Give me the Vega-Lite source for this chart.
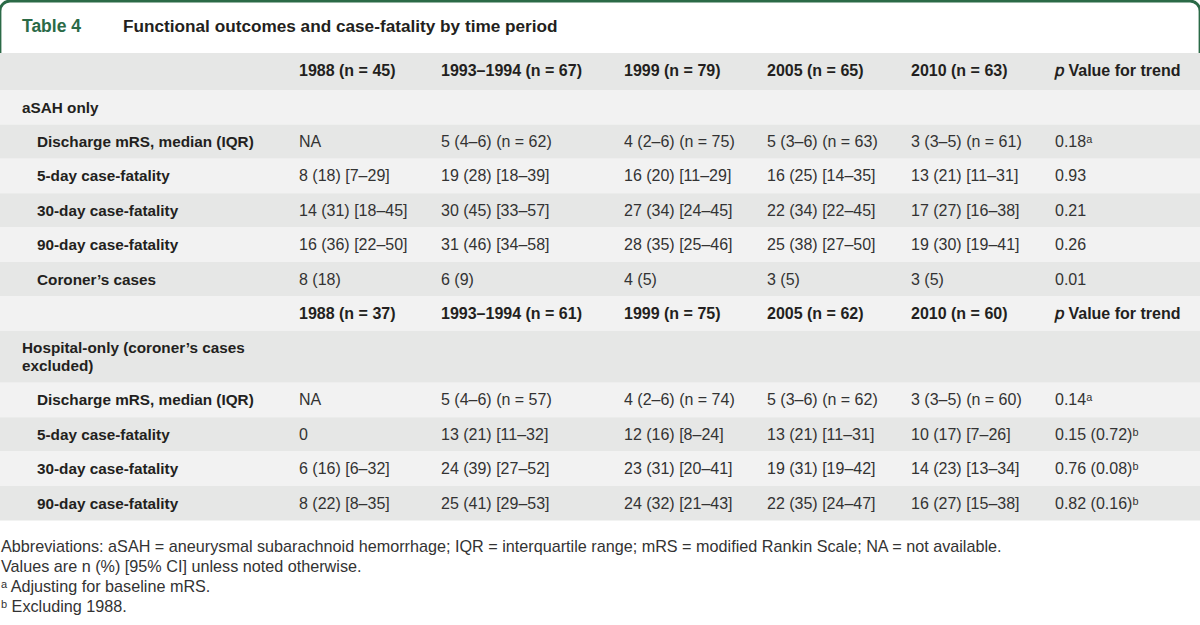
{
  "$schema": "https://vega.github.io/schema/vega-lite/v6.json",
  "width": 1200,
  "height": 625,
  "padding": 0,
  "autosize": {"type": "none"},
  "background": "#ffffff",
  "config": {"view": {"stroke": null}},
  "datasets": {
    "frame": [{"top": -1, "bottom": 2}],
    "bands": [
      {"top": 1, "bottom": 2}, {"top": 2, "bottom": 3}, {"top": 3, "bottom": 4}, {"top": 4, "bottom": 5},
      {"top": 5, "bottom": 6}, {"top": 6, "bottom": 7}, {"top": 7, "bottom": 8}, {"top": 8, "bottom": 9},
      {"top": 9, "bottom": 10}, {"top": 10, "bottom": 11}, {"top": 11, "bottom": 12}, {"top": 12, "bottom": 13},
      {"top": 13, "bottom": 14}
    ],
    "cells": [
      {"row": 0, "col": 0, "kind": "tnum", "text": "Table 4"},
      {"row": 0, "col": 2, "kind": "tname", "text": "Functional outcomes and case-fatality by time period"},
      {"row": 1, "col": 3, "kind": "head", "text": "1988 (n = 45)"},
      {"row": 1, "col": 4, "kind": "head", "text": "1993–1994 (n = 67)"},
      {"row": 1, "col": 5, "kind": "head", "text": "1999 (n = 79)"},
      {"row": 1, "col": 6, "kind": "head", "text": "2005 (n = 65)"},
      {"row": 1, "col": 7, "kind": "head", "text": "2010 (n = 63)"},
      {"row": 1, "col": 8, "kind": "head", "text": "𝑝 Value for trend"},
      {"row": 2, "col": 0, "kind": "section", "text": "aSAH only"},
      {"row": 3, "col": 1, "kind": "label", "text": "Discharge mRS, median (IQR)"},
      {"row": 3, "col": 3, "kind": "value", "text": "NA"},
      {"row": 3, "col": 4, "kind": "value", "text": "5 (4–6) (n = 62)"},
      {"row": 3, "col": 5, "kind": "value", "text": "4 (2–6) (n = 75)"},
      {"row": 3, "col": 6, "kind": "value", "text": "5 (3–6) (n = 63)"},
      {"row": 3, "col": 7, "kind": "value", "text": "3 (3–5) (n = 61)"},
      {"row": 3, "col": 8, "kind": "value", "text": "0.18ᵃ"},
      {"row": 4, "col": 1, "kind": "label", "text": "5-day case-fatality"},
      {"row": 4, "col": 3, "kind": "value", "text": "8 (18) [7–29]"},
      {"row": 4, "col": 4, "kind": "value", "text": "19 (28) [18–39]"},
      {"row": 4, "col": 5, "kind": "value", "text": "16 (20) [11–29]"},
      {"row": 4, "col": 6, "kind": "value", "text": "16 (25) [14–35]"},
      {"row": 4, "col": 7, "kind": "value", "text": "13 (21) [11–31]"},
      {"row": 4, "col": 8, "kind": "value", "text": "0.93"},
      {"row": 5, "col": 1, "kind": "label", "text": "30-day case-fatality"},
      {"row": 5, "col": 3, "kind": "value", "text": "14 (31) [18–45]"},
      {"row": 5, "col": 4, "kind": "value", "text": "30 (45) [33–57]"},
      {"row": 5, "col": 5, "kind": "value", "text": "27 (34) [24–45]"},
      {"row": 5, "col": 6, "kind": "value", "text": "22 (34) [22–45]"},
      {"row": 5, "col": 7, "kind": "value", "text": "17 (27) [16–38]"},
      {"row": 5, "col": 8, "kind": "value", "text": "0.21"},
      {"row": 6, "col": 1, "kind": "label", "text": "90-day case-fatality"},
      {"row": 6, "col": 3, "kind": "value", "text": "16 (36) [22–50]"},
      {"row": 6, "col": 4, "kind": "value", "text": "31 (46) [34–58]"},
      {"row": 6, "col": 5, "kind": "value", "text": "28 (35) [25–46]"},
      {"row": 6, "col": 6, "kind": "value", "text": "25 (38) [27–50]"},
      {"row": 6, "col": 7, "kind": "value", "text": "19 (30) [19–41]"},
      {"row": 6, "col": 8, "kind": "value", "text": "0.26"},
      {"row": 7, "col": 1, "kind": "label", "text": "Coroner’s cases"},
      {"row": 7, "col": 3, "kind": "value", "text": "8 (18)"},
      {"row": 7, "col": 4, "kind": "value", "text": "6 (9)"},
      {"row": 7, "col": 5, "kind": "value", "text": "4 (5)"},
      {"row": 7, "col": 6, "kind": "value", "text": "3 (5)"},
      {"row": 7, "col": 7, "kind": "value", "text": "3 (5)"},
      {"row": 7, "col": 8, "kind": "value", "text": "0.01"},
      {"row": 8, "col": 3, "kind": "head", "text": "1988 (n = 37)"},
      {"row": 8, "col": 4, "kind": "head", "text": "1993–1994 (n = 61)"},
      {"row": 8, "col": 5, "kind": "head", "text": "1999 (n = 75)"},
      {"row": 8, "col": 6, "kind": "head", "text": "2005 (n = 62)"},
      {"row": 8, "col": 7, "kind": "head", "text": "2010 (n = 60)"},
      {"row": 8, "col": 8, "kind": "head", "text": "𝑝 Value for trend"},
      {"row": 9, "col": 0, "kind": "section", "text": "Hospital-only (coroner’s cases\nexcluded)"},
      {"row": 10, "col": 1, "kind": "label", "text": "Discharge mRS, median (IQR)"},
      {"row": 10, "col": 3, "kind": "value", "text": "NA"},
      {"row": 10, "col": 4, "kind": "value", "text": "5 (4–6) (n = 57)"},
      {"row": 10, "col": 5, "kind": "value", "text": "4 (2–6) (n = 74)"},
      {"row": 10, "col": 6, "kind": "value", "text": "5 (3–6) (n = 62)"},
      {"row": 10, "col": 7, "kind": "value", "text": "3 (3–5) (n = 60)"},
      {"row": 10, "col": 8, "kind": "value", "text": "0.14ᵃ"},
      {"row": 11, "col": 1, "kind": "label", "text": "5-day case-fatality"},
      {"row": 11, "col": 3, "kind": "value", "text": "0"},
      {"row": 11, "col": 4, "kind": "value", "text": "13 (21) [11–32]"},
      {"row": 11, "col": 5, "kind": "value", "text": "12 (16) [8–24]"},
      {"row": 11, "col": 6, "kind": "value", "text": "13 (21) [11–31]"},
      {"row": 11, "col": 7, "kind": "value", "text": "10 (17) [7–26]"},
      {"row": 11, "col": 8, "kind": "value", "text": "0.15 (0.72)ᵇ"},
      {"row": 12, "col": 1, "kind": "label", "text": "30-day case-fatality"},
      {"row": 12, "col": 3, "kind": "value", "text": "6 (16) [6–32]"},
      {"row": 12, "col": 4, "kind": "value", "text": "24 (39) [27–52]"},
      {"row": 12, "col": 5, "kind": "value", "text": "23 (31) [20–41]"},
      {"row": 12, "col": 6, "kind": "value", "text": "19 (31) [19–42]"},
      {"row": 12, "col": 7, "kind": "value", "text": "14 (23) [13–34]"},
      {"row": 12, "col": 8, "kind": "value", "text": "0.76 (0.08)ᵇ"},
      {"row": 13, "col": 1, "kind": "label", "text": "90-day case-fatality"},
      {"row": 13, "col": 3, "kind": "value", "text": "8 (22) [8–35]"},
      {"row": 13, "col": 4, "kind": "value", "text": "25 (41) [29–53]"},
      {"row": 13, "col": 5, "kind": "value", "text": "24 (32) [21–43]"},
      {"row": 13, "col": 6, "kind": "value", "text": "22 (35) [24–47]"},
      {"row": 13, "col": 7, "kind": "value", "text": "16 (27) [15–38]"},
      {"row": 13, "col": 8, "kind": "value", "text": "0.82 (0.16)ᵇ"},
      {"row": 14, "col": -1, "kind": "note", "text": "Abbreviations: aSAH = aneurysmal subarachnoid hemorrhage; IQR = interquartile range; mRS = modified Rankin Scale; NA = not available."},
      {"row": 15, "col": -1, "kind": "note", "text": "Values are n (%) [95% CI] unless noted otherwise."},
      {"row": 16, "col": -1, "kind": "note", "text": "ᵃ Adjusting for baseline mRS."},
      {"row": 17, "col": -1, "kind": "note", "text": "ᵇ Excluding 1988."}
    ]
  },
  "layer": [
    {
      "data": {"name": "frame"},
      "mark": {"type": "rect", "fill": "#ffffff", "stroke": "#2b6a47", "strokeWidth": 2.8, "cornerRadius": 10},
      "encoding": {
        "y": {"field": "top", "type": "quantitative", "axis": null,
              "scale": {"domain": [-1, 0, 1, 2, 3, 4, 5, 6, 7, 8, 9, 10, 11, 12, 13, 14, 15, 16, 17], "range": [1, 9, 53, 90, 124.4, 158.8, 193.2, 227.6, 262, 296.4, 330.8, 382.8, 417.2, 451.6, 486, 520.4, 540.4, 560.4, 580.4], "nice": false, "zero": false}},
        "y2": {"field": "bottom"}
      }
    },
    {
      "data": {"name": "bands"},
      "mark": {"type": "rect"},
      "encoding": {
        "y": {"field": "top", "type": "quantitative", "axis": null,
              "scale": {"domain": [-1, 0, 1, 2, 3, 4, 5, 6, 7, 8, 9, 10, 11, 12, 13, 14, 15, 16, 17], "range": [1, 9, 53, 90, 124.4, 158.8, 193.2, 227.6, 262, 296.4, 330.8, 382.8, 417.2, 451.6, 486, 520.4, 540.4, 560.4, 580.4], "nice": false, "zero": false}},
        "y2": {"field": "bottom"},
        "color": {"field": "top", "type": "ordinal", "legend": null,
                  "scale": {"domain": [1, 2, 3, 4, 5, 6, 7, 8, 9, 10, 11, 12, 13], "range": ["#e6e7e6", "#f2f2f2", "#e6e7e6", "#f2f2f2", "#e6e7e6", "#f2f2f2", "#e6e7e6", "#f2f2f2", "#e6e7e6", "#f2f2f2", "#e6e7e6", "#f2f2f2", "#e6e7e6"]}}
      }
    },
    {
      "data": {"name": "cells"},
      "transform": [{"filter": "datum.kind === 'tnum'"}],
      "mark": {"type": "text", "align": "left", "baseline": "alphabetic", "dy": 23, "font": "Liberation Sans", "fontSize": 17.5, "fontWeight": "bold", "fill": "#2b6a47"},
      "encoding": {
        "x": {"field": "col", "type": "quantitative", "axis": null, "scale": {"domain": [-1, 0, 1, 2, 3, 4, 5, 6, 7, 8], "range": [1, 22, 37, 123, 299, 441, 624, 767, 911, 1055], "nice": false, "zero": false}},
        "y": {"field": "row", "type": "quantitative", "axis": null,
              "scale": {"domain": [-1, 0, 1, 2, 3, 4, 5, 6, 7, 8, 9, 10, 11, 12, 13, 14, 15, 16, 17], "range": [1, 9, 53, 90, 124.4, 158.8, 193.2, 227.6, 262, 296.4, 330.8, 382.8, 417.2, 451.6, 486, 520.4, 540.4, 560.4, 580.4], "nice": false, "zero": false}},
        "text": {"field": "text"}
      }
    },
    {
      "data": {"name": "cells"},
      "transform": [{"filter": "datum.kind === 'tname'"}],
      "mark": {"type": "text", "align": "left", "baseline": "alphabetic", "dy": 23, "font": "Liberation Sans", "fontSize": 17.2, "fontWeight": "bold", "fill": "#231f20"},
      "encoding": {
        "x": {"field": "col", "type": "quantitative", "axis": null, "scale": {"domain": [-1, 0, 1, 2, 3, 4, 5, 6, 7, 8], "range": [1, 22, 37, 123, 299, 441, 624, 767, 911, 1055], "nice": false, "zero": false}},
        "y": {"field": "row", "type": "quantitative", "axis": null,
              "scale": {"domain": [-1, 0, 1, 2, 3, 4, 5, 6, 7, 8, 9, 10, 11, 12, 13, 14, 15, 16, 17], "range": [1, 9, 53, 90, 124.4, 158.8, 193.2, 227.6, 262, 296.4, 330.8, 382.8, 417.2, 451.6, 486, 520.4, 540.4, 560.4, 580.4], "nice": false, "zero": false}},
        "text": {"field": "text"}
      }
    },
    {
      "data": {"name": "cells"},
      "transform": [{"filter": "datum.kind === 'head'"}],
      "mark": {"type": "text", "align": "left", "baseline": "alphabetic", "dy": 22.5, "font": "Liberation Sans", "fontSize": 16, "fontWeight": "bold", "fill": "#231f20"},
      "encoding": {
        "x": {"field": "col", "type": "quantitative", "axis": null, "scale": {"domain": [-1, 0, 1, 2, 3, 4, 5, 6, 7, 8], "range": [1, 22, 37, 123, 299, 441, 624, 767, 911, 1055], "nice": false, "zero": false}},
        "y": {"field": "row", "type": "quantitative", "axis": null,
              "scale": {"domain": [-1, 0, 1, 2, 3, 4, 5, 6, 7, 8, 9, 10, 11, 12, 13, 14, 15, 16, 17], "range": [1, 9, 53, 90, 124.4, 158.8, 193.2, 227.6, 262, 296.4, 330.8, 382.8, 417.2, 451.6, 486, 520.4, 540.4, 560.4, 580.4], "nice": false, "zero": false}},
        "text": {"field": "text"}
      }
    },
    {
      "data": {"name": "cells"},
      "transform": [{"filter": "datum.kind === 'section' || datum.kind === 'label'"}],
      "mark": {"type": "text", "align": "left", "baseline": "alphabetic", "dy": 22.5, "lineBreak": "\n", "lineHeight": 18, "font": "Liberation Sans", "fontSize": 15.3, "fontWeight": "bold", "fill": "#231f20"},
      "encoding": {
        "x": {"field": "col", "type": "quantitative", "axis": null, "scale": {"domain": [-1, 0, 1, 2, 3, 4, 5, 6, 7, 8], "range": [1, 22, 37, 123, 299, 441, 624, 767, 911, 1055], "nice": false, "zero": false}},
        "y": {"field": "row", "type": "quantitative", "axis": null,
              "scale": {"domain": [-1, 0, 1, 2, 3, 4, 5, 6, 7, 8, 9, 10, 11, 12, 13, 14, 15, 16, 17], "range": [1, 9, 53, 90, 124.4, 158.8, 193.2, 227.6, 262, 296.4, 330.8, 382.8, 417.2, 451.6, 486, 520.4, 540.4, 560.4, 580.4], "nice": false, "zero": false}},
        "text": {"field": "text"}
      }
    },
    {
      "data": {"name": "cells"},
      "transform": [{"filter": "datum.kind === 'value'"}],
      "mark": {"type": "text", "align": "left", "baseline": "alphabetic", "dy": 22.5, "font": "Liberation Sans", "fontSize": 16, "fill": "#333333"},
      "encoding": {
        "x": {"field": "col", "type": "quantitative", "axis": null, "scale": {"domain": [-1, 0, 1, 2, 3, 4, 5, 6, 7, 8], "range": [1, 22, 37, 123, 299, 441, 624, 767, 911, 1055], "nice": false, "zero": false}},
        "y": {"field": "row", "type": "quantitative", "axis": null,
              "scale": {"domain": [-1, 0, 1, 2, 3, 4, 5, 6, 7, 8, 9, 10, 11, 12, 13, 14, 15, 16, 17], "range": [1, 9, 53, 90, 124.4, 158.8, 193.2, 227.6, 262, 296.4, 330.8, 382.8, 417.2, 451.6, 486, 520.4, 540.4, 560.4, 580.4], "nice": false, "zero": false}},
        "text": {"field": "text"}
      }
    },
    {
      "data": {"name": "cells"},
      "transform": [{"filter": "datum.kind === 'note'"}],
      "mark": {"type": "text", "align": "left", "baseline": "alphabetic", "dy": 31.5, "font": "Liberation Sans", "fontSize": 16.2, "fill": "#333333"},
      "encoding": {
        "x": {"field": "col", "type": "quantitative", "axis": null, "scale": {"domain": [-1, 0, 1, 2, 3, 4, 5, 6, 7, 8], "range": [1, 22, 37, 123, 299, 441, 624, 767, 911, 1055], "nice": false, "zero": false}},
        "y": {"field": "row", "type": "quantitative", "axis": null,
              "scale": {"domain": [-1, 0, 1, 2, 3, 4, 5, 6, 7, 8, 9, 10, 11, 12, 13, 14, 15, 16, 17], "range": [1, 9, 53, 90, 124.4, 158.8, 193.2, 227.6, 262, 296.4, 330.8, 382.8, 417.2, 451.6, 486, 520.4, 540.4, 560.4, 580.4], "nice": false, "zero": false}},
        "text": {"field": "text"}
      }
    }
  ]
}
